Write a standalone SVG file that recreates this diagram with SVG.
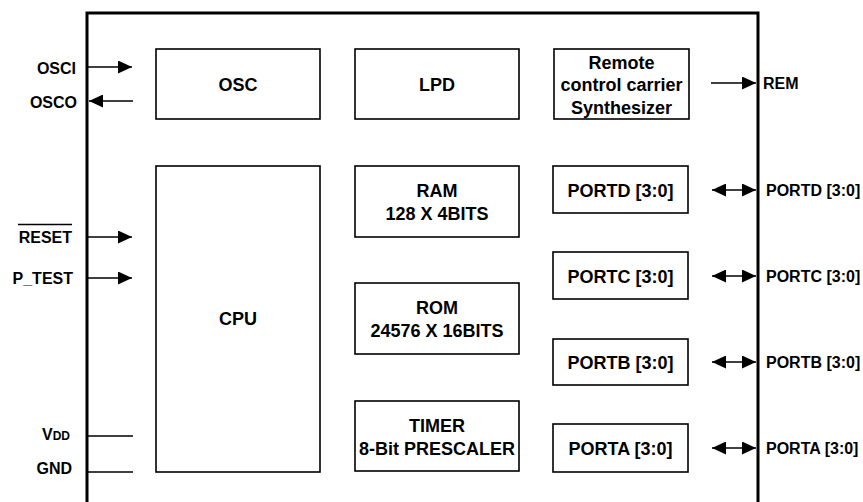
<svg xmlns="http://www.w3.org/2000/svg" width="863" height="502" viewBox="0 0 863 502">
<style>
.frame{fill:none;stroke:#000;stroke-width:3}
.box{fill:#fff;stroke:#000;stroke-width:1.6}
.bt{font-family:"Liberation Sans",Arial,sans-serif;font-weight:bold;font-size:18px;text-anchor:middle;fill:#000}
.lb{font-family:"Liberation Sans",Arial,sans-serif;font-weight:bold;font-size:16px;fill:#000}
.end{text-anchor:end}
.ln{stroke:#000;stroke-width:1.6;fill:none}
</style>
<defs>
<marker id="ah" markerWidth="14" markerHeight="13" refX="14" refY="6.5" orient="auto" markerUnits="userSpaceOnUse">
<path d="M0,0 L14,6.5 L0,13 Z" fill="#000"/>
</marker>
<marker id="as" markerWidth="14" markerHeight="13" refX="0" refY="6.5" orient="auto" markerUnits="userSpaceOnUse">
<path d="M14,0 L0,6.5 L14,13 Z" fill="#000"/>
</marker>
</defs>
<rect class="frame" x="87" y="13" width="671" height="500"/>
<g id="osc"><rect class="box" x="156" y="49" width="164" height="70"/><text class="bt" x="238" y="90.5">OSC</text></g>
<g id="lpd"><rect class="box" x="355" y="49" width="164" height="70"/><text class="bt" x="437" y="90.5">LPD</text></g>
<g id="remote"><rect class="box" x="554" y="49" width="135" height="70"/>
<text class="bt" x="621.5" y="68.5">Remote</text><text class="bt" x="621.5" y="91">control carrier</text><text class="bt" x="621.5" y="113.5">Synthesizer</text></g>
<g id="cpu"><rect class="box" x="156" y="166" width="164" height="306"/><text class="bt" x="238" y="324.5">CPU</text></g>
<g id="ram"><rect class="box" x="355" y="166" width="164" height="71"/>
<text class="bt" x="437" y="196.5">RAM</text><text class="bt" x="437" y="219.5">128 X 4BITS</text></g>
<g id="rom"><rect class="box" x="355" y="283" width="164" height="71"/>
<text class="bt" x="437" y="313.5">ROM</text><text class="bt" x="437" y="336.5">24576 X 16BITS</text></g>
<g id="timer"><rect class="box" x="355" y="401" width="164" height="70"/>
<text class="bt" x="437" y="431.5">TIMER</text><text class="bt" x="437" y="454.5">8-Bit PRESCALER</text></g>
<g id="portd"><rect class="box" x="553" y="166" width="135" height="47"/><text class="bt" x="620.5" y="196.5">PORTD [3:0]</text></g>
<g id="portc"><rect class="box" x="553" y="252" width="135" height="47"/><text class="bt" x="620.5" y="282.5">PORTC [3:0]</text></g>
<g id="portb"><rect class="box" x="553" y="339" width="135" height="46"/><text class="bt" x="620.5" y="368.5">PORTB [3:0]</text></g>
<g id="porta"><rect class="box" x="553" y="424" width="135" height="48"/><text class="bt" x="620.5" y="454.5">PORTA [3:0]</text></g>
<g id="connectors">
<line class="ln" x1="88" y1="67" x2="132" y2="67" marker-end="url(#ah)"/>
<line class="ln" x1="133" y1="101" x2="89" y2="101" marker-end="url(#ah)"/>
<line class="ln" x1="88" y1="237" x2="132" y2="237" marker-end="url(#ah)"/>
<line class="ln" x1="88" y1="278" x2="132" y2="278" marker-end="url(#ah)"/>
<line class="ln" x1="88" y1="436" x2="133" y2="436"/>
<line class="ln" x1="88" y1="472" x2="133" y2="472"/>
<line class="ln" x1="711" y1="83" x2="756" y2="83" marker-end="url(#ah)"/>
<line class="ln" x1="712" y1="190" x2="756" y2="190" marker-start="url(#as)" marker-end="url(#ah)"/>
<line class="ln" x1="712" y1="276" x2="756" y2="276" marker-start="url(#as)" marker-end="url(#ah)"/>
<line class="ln" x1="712" y1="362" x2="756" y2="362" marker-start="url(#as)" marker-end="url(#ah)"/>
<line class="ln" x1="712" y1="448" x2="756" y2="448" marker-start="url(#as)" marker-end="url(#ah)"/>
</g>
<g id="labels">
<text class="lb end" x="76" y="74">OSCI</text>
<text class="lb end" x="77" y="108">OSCO</text>
<text class="lb end" x="72" y="243">RESET</text>
<line x1="18" y1="224.5" x2="72" y2="224.5" stroke="#000" stroke-width="1.4"/>
<text class="lb end" x="73" y="284">P_TEST</text>
<text class="lb end" x="70" y="440">V<tspan font-size="12">DD</tspan></text>
<text class="lb end" x="72" y="474">GND</text>
<text class="lb" x="763" y="89">REM</text>
<text class="lb" x="766" y="195.5">PORTD [3:0]</text>
<text class="lb" x="766" y="281.5">PORTC [3:0]</text>
<text class="lb" x="766" y="367.5">PORTB [3:0]</text>
<text class="lb" x="766" y="453.5">PORTA [3:0]</text>
</g>
</svg>
